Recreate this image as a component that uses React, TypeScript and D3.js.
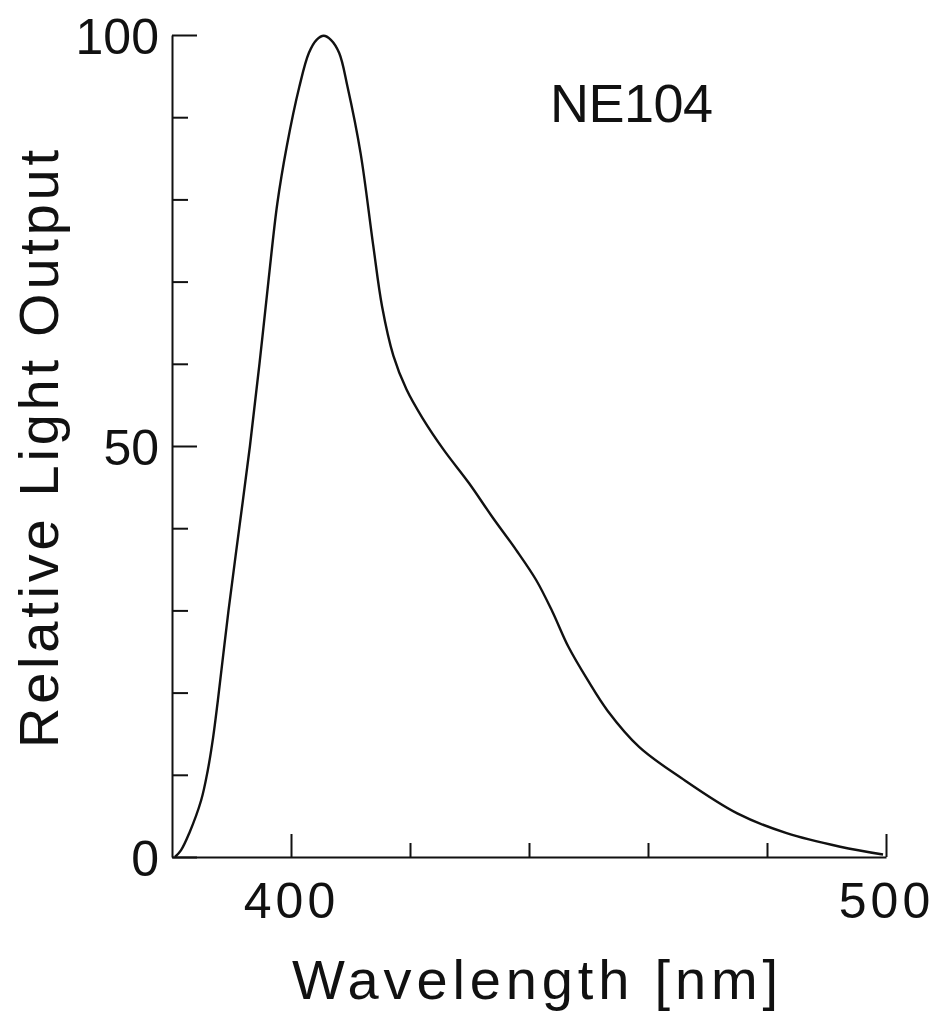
import { useEffect, useRef } from "react";
import * as d3 from "d3";

// wavelength [nm] and relative light output
const wavelength = [
  380.5, 381.5, 382.9, 384.9, 386.0, 386.9, 387.7, 389.5, 391.3, 393.1, 394.7,
  396.2, 397.7, 399.3, 401.4, 403.0, 404.3, 405.5, 406.7, 408.1, 409.5, 411.7,
  413.8, 415.3, 417.2, 419.4, 422.1, 425.7, 429.9, 433.8, 437.8, 441.2, 443.9,
  446.6, 449.8, 453.2, 458.5, 465.6, 475.0, 483.3, 492.3, 499.5,
];
const output = [
  0, 0.8, 2.9, 6.9, 10.5, 14.5, 19, 30, 40, 50, 60,
  70, 79.5, 86.5, 93.7, 97.8, 99.4, 99.9, 99.4, 97.8, 93.7, 85.6,
  74.5, 67, 61, 56.9, 53.4, 49.5, 45.5, 41.4, 37.4, 33.7, 29.9,
  25.6, 21.6, 17.8, 13.4, 9.6, 5.3, 2.9, 1.25, 0.3,
];

const xMajor = [400, 500];
const xMinor = [420, 440, 460, 480];
const yMajor = [0, 50, 100];
const yMinor = [10, 20, 30, 40, 60, 70, 80, 90];

const font = "'Liberation Sans', Arial, sans-serif";
const ink = "#111";

export default function App() {
  const ref = useRef<SVGSVGElement>(null);

  useEffect(() => {
    const svg = d3.select(ref.current);
    svg.selectAll("*").remove();

    const x = d3.scaleLinear().domain([380, 500]).range([172, 886]);
    const y = d3.scaleLinear().domain([0, 100]).range([857, 35]);

    // minor ticks first (no labels)
    svg.append("g")
      .attr("transform", `translate(0,${y(0)})`)
      .call(d3.axisBottom(x).tickValues(xMinor).tickSize(-14).tickSizeOuter(0).tickFormat(() => ""))
      .call(g => g.select(".domain").remove());

    svg.append("g")
      .attr("transform", `translate(${x(380)},0)`)
      .call(d3.axisLeft(y).tickValues(yMinor).tickSize(-16).tickSizeOuter(0).tickFormat(() => ""))
      .call(g => g.select(".domain").remove());

    const gx = svg.append("g")
      .attr("transform", `translate(0,${y(0)})`)
      .call(d3.axisBottom(x).tickValues(xMajor).tickSize(-23).tickSizeOuter(0).tickPadding(25));

    const gy = svg.append("g")
      .attr("transform", `translate(${x(380)},0)`)
      .call(d3.axisLeft(y).tickValues(yMajor).tickSize(-25).tickSizeOuter(0).tickPadding(13));

    svg.selectAll("g")
      .attr("font-family", font)
      .attr("font-size", 50)
      .attr("fill", ink);
    svg.selectAll(".domain, .tick line")
      .attr("stroke", ink)
      .attr("stroke-width", 2);
    gx.selectAll("text").attr("fill", ink).attr("letter-spacing", 4);
    gy.selectAll("text").attr("fill", ink).attr("dy", "0.36em");

    const line = d3.line<number>()
      .x((_, i) => x(wavelength[i]))
      .y(d => y(d))
      .curve(d3.curveCatmullRom.alpha(0.5));

    svg.append("path")
      .datum(output)
      .attr("d", line)
      .attr("fill", "none")
      .attr("stroke", ink)
      .attr("stroke-width", 2.4);

    svg.append("text")
      .attr("x", 550)
      .attr("y", 122)
      .attr("font-family", font)
      .attr("font-size", 54)
      .attr("fill", ink)
      .attr("textLength", 163)
      .attr("lengthAdjust", "spacing")
      .text("NE104");

    svg.append("text")
      .attr("x", 292)
      .attr("y", 999)
      .attr("font-family", font)
      .attr("font-size", 56)
      .attr("fill", ink)
      .attr("textLength", 486)
      .attr("lengthAdjust", "spacing")
      .text("Wavelength [nm]");

    svg.append("text")
      .attr("transform", "translate(58,748) rotate(-90)")
      .attr("font-family", font)
      .attr("font-size", 56)
      .attr("fill", ink)
      .attr("textLength", 598)
      .attr("lengthAdjust", "spacing")
      .text("Relative Light Output");
  }, []);

  return (
    <svg
      ref={ref}
      width={942}
      height={1020}
      style={{ position: "absolute", left: 0, top: 0, background: "#fff" }}
    ></svg>
  );
}
